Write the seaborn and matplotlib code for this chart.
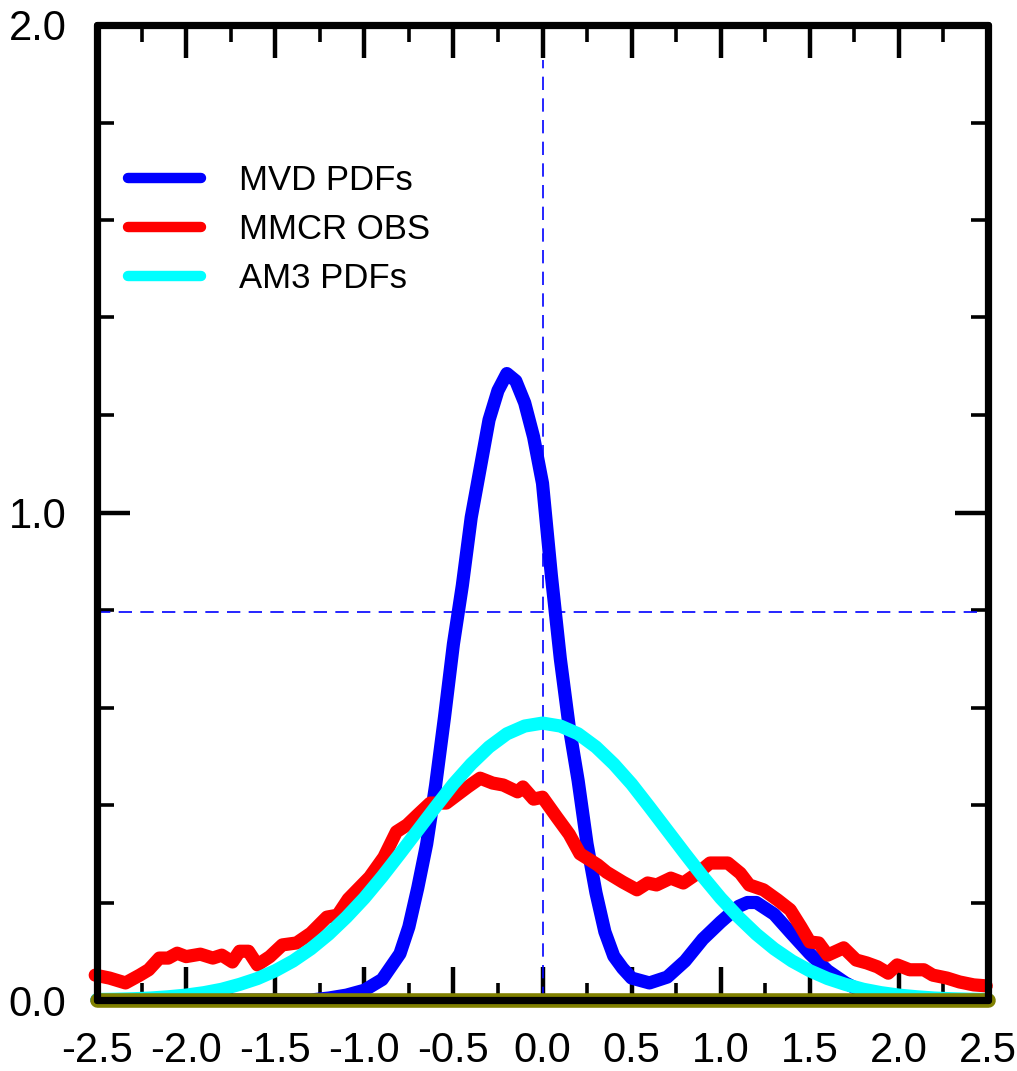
import numpy as np
import pandas as pd
import matplotlib
matplotlib.use("Agg")
import matplotlib.pyplot as plt
import seaborn as sns
from matplotlib.ticker import MultipleLocator, FixedLocator

# ---------------- data ----------------
mvd_x = [-2.5, -2.0, -1.5, -1.3, -1.2, -1.1, -1.0, -0.9, -0.8, -0.75, -0.7, -0.65,
         -0.6, -0.55, -0.5, -0.45, -0.4, -0.35, -0.3, -0.25, -0.2, -0.15, -0.1,
         -0.05, 0.0, 0.05, 0.1, 0.15, 0.2, 0.25, 0.3, 0.35, 0.4, 0.45, 0.5, 0.6,
         0.7, 0.8, 0.9, 1.0, 1.1, 1.15, 1.2, 1.3, 1.4, 1.5, 1.6, 1.7, 1.8, 1.9,
         2.0, 2.1, 2.5]
mvd_y = [0.0, 0.0, 0.0, 0.0, 0.004, 0.01, 0.02, 0.042, 0.095, 0.15, 0.23, 0.32,
         0.44, 0.58, 0.73, 0.85, 0.99, 1.09, 1.19, 1.25, 1.285, 1.27, 1.225,
         1.155, 1.06, 0.87, 0.70, 0.56, 0.45, 0.32, 0.22, 0.14, 0.09, 0.065, 0.045,
         0.035, 0.047, 0.08, 0.125, 0.16, 0.192, 0.2, 0.2, 0.176, 0.135, 0.095,
         0.06, 0.035, 0.016, 0.006, 0.002, 0.0, 0.0]

mmcr_x = [-2.51, -2.43, -2.34, -2.26, -2.21, -2.15, -2.10, -2.05, -2.0, -1.92,
          -1.85, -1.80, -1.74, -1.70, -1.65, -1.60, -1.53, -1.46, -1.38, -1.30,
          -1.21, -1.15, -1.09, -0.97, -0.89, -0.82, -0.76, -0.70, -0.63, -0.54,
          -0.42, -0.35, -0.28, -0.22, -0.14, -0.11, -0.05, 0.0, 0.08, 0.15, 0.21,
          0.31, 0.36, 0.45, 0.53, 0.59, 0.64, 0.72, 0.79, 0.87, 0.94, 1.04, 1.11,
          1.16, 1.24, 1.32, 1.39, 1.45, 1.50, 1.55, 1.60, 1.69, 1.76, 1.82, 1.88,
          1.94, 1.99, 2.06, 2.14, 2.19, 2.27, 2.34, 2.42, 2.49]
mmcr_y = [0.051, 0.045, 0.035, 0.051, 0.062, 0.086, 0.086, 0.096, 0.089, 0.094,
          0.086, 0.092, 0.078, 0.10, 0.10, 0.072, 0.089, 0.113, 0.117, 0.137,
          0.17, 0.174, 0.207, 0.252, 0.293, 0.345, 0.359, 0.38, 0.404, 0.404,
          0.437, 0.455, 0.445, 0.441, 0.427, 0.437, 0.412, 0.416, 0.375, 0.34,
          0.30, 0.277, 0.262, 0.242, 0.226, 0.24, 0.236, 0.25, 0.24, 0.26, 0.281,
          0.281, 0.26, 0.236, 0.226, 0.205, 0.185, 0.15, 0.119, 0.117, 0.092,
          0.107, 0.082, 0.076, 0.068, 0.055, 0.072, 0.062, 0.062, 0.051, 0.045,
          0.037, 0.031, 0.029]

am3_x = [-2.5, -2.4, -2.3, -2.2, -2.1, -2.0, -1.9, -1.8, -1.7, -1.6, -1.5, -1.4,
         -1.3, -1.2, -1.1, -1.0, -0.9, -0.8, -0.7, -0.6, -0.5, -0.4, -0.3, -0.2,
         -0.1, 0.0, 0.1, 0.2, 0.3, 0.4, 0.5, 0.6, 0.7, 0.8, 0.9, 1.0, 1.1, 1.2,
         1.3, 1.4, 1.5, 1.6, 1.7, 1.8, 1.9, 2.0, 2.1, 2.2, 2.3, 2.4, 2.5]
am3_y = [0.001, 0.0015, 0.0025, 0.004, 0.0066, 0.01, 0.015, 0.022, 0.032, 0.044,
         0.06, 0.08, 0.105, 0.135, 0.17, 0.209, 0.253, 0.30, 0.348, 0.396,
         0.443, 0.484, 0.519, 0.546, 0.562, 0.568, 0.562, 0.546, 0.519, 0.484,
         0.443, 0.396, 0.348, 0.30, 0.253, 0.209, 0.17, 0.135, 0.105, 0.08,
         0.06, 0.044, 0.032, 0.022, 0.015, 0.01, 0.0066, 0.004, 0.0025, 0.0015, 0.001]

series_names = ["MVD PDFs", "MMCR OBS", "AM3 PDFs"]
series_colors = ["#0000ff", "#ff0000", "#00ffff"]

x_ticks = [-2.5, -2.0, -1.5, -1.0, -0.5, 0.0, 0.5, 1.0, 1.5, 2.0, 2.5]
x_tick_labels = ["-2.5", "-2.0", "-1.5", "-1.0", "-0.5", "0.0", "0.5", "1.0", "1.5", "2.0", "2.5"]
y_ticks = [0.0, 1.0, 2.0]
y_tick_labels = ["0.0", "1.0", "2.0"]
ref_x = 0.0
ref_y = 0.795

# ---------------- style ----------------
sns.set_theme(style="white")
plt.rcParams["font.family"] = ["Liberation Sans", "DejaVu Sans"]
plt.rcParams["axes.unicode_minus"] = False
plt.rcParams["text.color"] = "black"

df = pd.concat([
    pd.DataFrame({"x": mvd_x, "y": mvd_y, "series": series_names[0]}),
    pd.DataFrame({"x": mmcr_x, "y": mmcr_y, "series": series_names[1]}),
    pd.DataFrame({"x": am3_x, "y": am3_y, "series": series_names[2]}),
], ignore_index=True)

fig = plt.figure(figsize=(10.17, 10.71), dpi=100)
ax = fig.add_axes([97 / 1017, 71 / 1071, 891 / 1017, 975 / 1071])

# reference dashed lines
ax.axvline(ref_x, ymax=0.964, color="#0000ff", lw=1.2, ls=(0, (8, 5)), zorder=1)
ax.axhline(ref_y, color="#0000ff", lw=1.2, ls=(0, (8, 5)), zorder=1)

for i, name in enumerate(series_names):
    sub = df[df["series"] == name]
    sns.lineplot(data=sub, x="x", y="y", ax=ax, color=series_colors[i], linewidth=9.5,
                 label=name, sort=False, estimator=None, zorder=2 + i)
for ln in ax.lines[2:]:
    ln.set_solid_capstyle("round")
    ln.set_solid_joinstyle("round")
    ln.set_clip_on(False)

# olive zero line
zl = ax.axhline(0.0, color="#808000", lw=10.5, zorder=6, clip_on=False)
zl.set_solid_capstyle("round")

ax.set_xlim(-2.5, 2.5)
ax.set_ylim(0, 2.0)
ax.set_xlabel("")
ax.set_ylabel("")

ax.xaxis.set_major_locator(FixedLocator(x_ticks))
ax.set_xticklabels(x_tick_labels)
ax.xaxis.set_minor_locator(MultipleLocator(0.25))
ax.yaxis.set_major_locator(FixedLocator(y_ticks))
ax.set_yticklabels(y_tick_labels)
ax.yaxis.set_minor_locator(MultipleLocator(0.2))

ax.tick_params(which="both", direction="in", top=True, right=True, bottom=True, left=True,
               color="black", labelsize=30, labelcolor="black")
ax.tick_params(which="major", length=24, width=3.2, pad=22)
ax.tick_params(which="minor", length=12, width=2.6)

for sp in ax.spines.values():
    sp.set_visible(True)
    sp.set_color("black")
    sp.set_linewidth(5.2)
    sp.set_capstyle("round")
    sp.set_zorder(7)

leg = ax.legend(loc="upper left", bbox_to_anchor=(0.035, 0.857), frameon=False,
                fontsize=25, handlelength=2.1, handletextpad=1.1, labelspacing=0.45,
                borderpad=0, borderaxespad=0)
for h in leg.get_lines():
    h.set_linewidth(7.5)
    h.set_solid_capstyle("round")
for t in leg.get_texts():
    t.set_color("black")

fig.savefig("out.png", dpi=100)
